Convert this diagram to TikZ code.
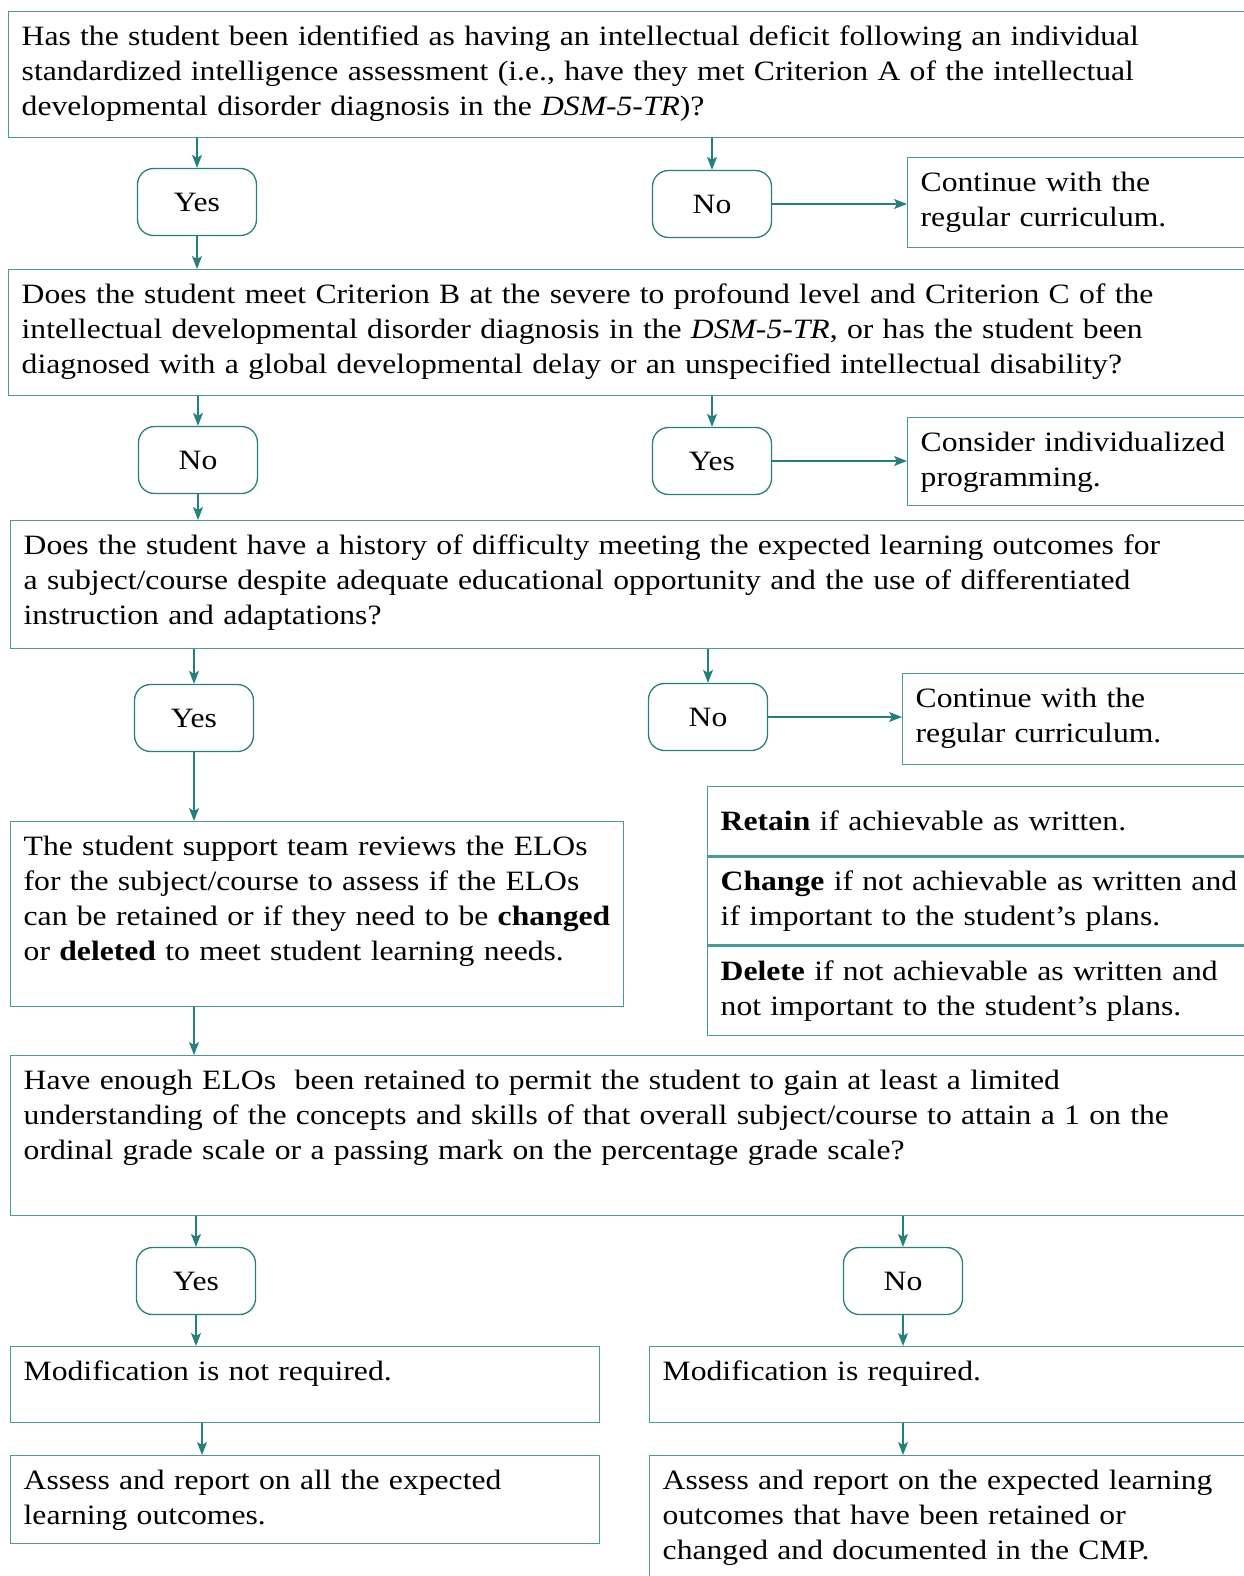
\documentclass[tikz,border=0pt]{standalone}
\usepackage{fontspec}
\setmainfont{Liberation Serif}[FakeStretch=1.13]
\usetikzlibrary{arrows.meta,positioning,calc}
\definecolor{lineteal}{RGB}{36,128,122}
\definecolor{boxteal}{RGB}{74,154,150}
\tikzset{
  qbox/.style={draw=boxteal, line width=1.4pt, anchor=north west, align=left,
    inner xsep=13pt, inner ysep=0pt, text height=34pt},
  rowbox/.style={draw=boxteal, line width=1.4pt, anchor=north west, align=left,
    inner xsep=13pt, inner ysep=0pt, text width=517pt},
  answer/.style={draw=lineteal, line width=1.3pt, rounded corners=16pt,
    minimum width=119pt, minimum height=67pt, inner sep=0pt},
  flow/.style={lineteal, line width=1.3pt, -{Stealth[length=13pt,width=10pt,inset=3pt]}}
}

\begin{document}
\begin{tikzpicture}[x=1pt, y=-1pt, font=\fontsize{28}{35}\selectfont]
\useasboundingbox (0,0) rectangle (1243,1576);

% Criterion A.
\node[qbox, text width=1216pt, text depth=92pt] (q1) at (8,11)
  {Has the student been identified as having an intellectual deficit following an individual\\
   standardized intelligence assessment (i.e., have they met Criterion A of the intellectual\\
   developmental disorder diagnosis in the \textit{DSM-5-TR})?};
\node[answer] (yes1) at (197,202) {Yes};
\node[answer] (no1) at (712,204) {No};
\node[qbox, text width=317pt, text depth=56pt] (cont1) at (907,157)
  {Continue with the\\ regular curriculum.};

% Criteria B and C.
\node[qbox, text width=1216pt, text depth=92pt] (q2) at (8,269)
  {Does the student meet Criterion B at the severe to profound level and Criterion C of the\\
   intellectual developmental disorder diagnosis in the \textit{DSM-5-TR}, or has the student been\\
   diagnosed with a global developmental delay or an unspecified intellectual disability?};
\node[answer] (no2) at (198,460) {No};
\node[answer] (yes2) at (712,461) {Yes};
\node[qbox, text width=317pt, text depth=54pt] (cons) at (907,417)
  {Consider individualized\\ programming.};

% History of difficulty.
\node[qbox, text width=1214pt, text depth=94pt] (q3) at (10,520)
  {Does the student have a history of difficulty meeting the expected learning outcomes for\\
   a subject/course despite adequate educational opportunity and the use of differentiated\\
   instruction and adaptations?};
\node[answer] (yes3) at (194,718) {Yes};
\node[answer] (no3) at (708,717) {No};
\node[qbox, text width=322pt, text depth=57pt] (cont2) at (902,673)
  {Continue with the\\ regular curriculum.};

% Review of the ELOs.
\node[qbox, text width=587pt, text depth=151pt] (supp) at (10,821)
  {The student support team reviews the ELOs\\
   for the subject/course to assess if the ELOs\\
   can be retained or if they need to be \textbf{changed}\\
   or \textbf{deleted} to meet student learning needs.};
\node[rowbox, minimum height=69pt] (retain) at (707,786)
  {\textbf{Retain} if achievable as written.};
\node[rowbox, minimum height=88pt] (change) at (retain.south west)
  {\textbf{Change} if not achievable as written and\\ if important to the student's plans.};
\node[rowbox, minimum height=89pt] (delete) at (change.south west)
  {\textbf{Delete} if not achievable as written and\\ not important to the student's plans.};

% Enough ELOs retained.
\node[qbox, text width=1214pt, text depth=126pt] (q4) at (10,1055)
  {Have enough ELOs~ been retained to permit the student to gain at least a limited\\
   understanding of the concepts and skills of that overall subject/course to attain a 1 on the\\
   ordinal grade scale or a passing mark on the percentage grade scale?};
\node[answer] (yes4) at (196,1281) {Yes};
\node[answer] (no4) at (903,1281) {No};
\node[qbox, text width=563pt, text depth=42pt] (modnot) at (10,1346)
  {Modification is not required.};
\node[qbox, text width=575pt, text depth=42pt] (modreq) at (649,1346)
  {Modification is required.};
\node[qbox, text width=563pt, text depth=54pt] (ass1) at (10,1455)
  {Assess and report on all the expected\\ learning outcomes.};
\node[qbox, text width=575pt, text depth=101pt] (ass2) at (649,1455)
  {Assess and report on the expected learning\\ outcomes that have been retained or\\
   changed and documented in the CMP.};

% Arrows into the answers.
\foreach \a/\b in {q1/yes1, q1/no1, q2/no2, q2/yes2, q3/yes3, q3/no3, q4/yes4, q4/no4}
\draw[flow] (\b |- \a.south) -- (\b);
% Arrows down out of the answers.
\foreach \a/\b in {yes1/q2, no2/q3, yes3/supp, yes4/modnot, no4/modreq}
\draw[flow] (\a) -- (\a |- \b.north);
% Arrows to the side.
\foreach \a/\b in {no1/cont1, yes2/cons, no3/cont2}
\draw[flow] (\a) -- (\a -| \b.west);

\draw[flow] (yes3 |- supp.south) -- (yes3 |- q4.north);
\draw[flow] ([xshift=6pt]yes4 |- modnot.south) -- ([xshift=6pt]yes4 |- ass1.north);
\draw[flow] (no4 |- modreq.south) -- (no4 |- ass2.north);
\end{tikzpicture}
\end{document}
